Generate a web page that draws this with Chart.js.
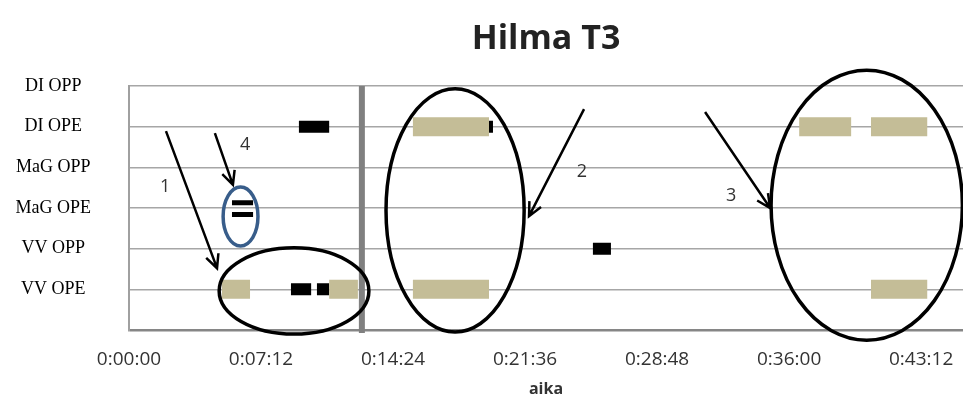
<!DOCTYPE html>
<html>
<head>
<meta charset="utf-8">
<script src="https://cdn.jsdelivr.net/npm/chart.js@4.4.0/dist/chart.umd.min.js"></script>
<style>
  body { margin: 0; background: #fff; }
</style>
</head>
<body>
<canvas id="chart" width="963" height="402"></canvas>
<script>
// rows of the y axis, bottom to top (0 = empty base row)
const rowLabels = ['', 'VV OPE', 'VV OPP', 'MaG OPE', 'MaG OPP', 'DI OPE', 'DI OPP'];
const tickLabels = ['0:00:00', '0:07:12', '0:14:24', '0:21:36', '0:28:48', '0:36:00', '0:43:12'];

// episodes, seconds from start
const tanRow   = [1, 1, 1, 5, 5, 5, 1];
const tanStart = [304, 655, 929, 929, 2193, 2428, 2428];
const tanEnd   = [396, 749, 1178, 1178, 2363, 2612, 2612];

const blackRow   = [5, 1, 1, 5, 2];
const blackStart = [556, 530, 615, 1178, 1518];
const blackEnd   = [655, 596, 655, 1191, 1577];

const thinRow   = [3.13, 2.84];
const thinStart = [337, 337];
const thinEnd   = [406, 406];

const dividerAt = 762;

// annotations (data units)
const ellipseCx = [540, 365, 1067, 2414];
const ellipseCy = [0.96, 2.79, 2.94, 3.07];
const ellipseRx = [245, 57, 226, 313];
const ellipseRy = [1.06, 0.725, 2.99, 3.32];
const ellipseColor = ['#000000', '#385D8A', '#000000', '#000000'];

const arrowFromX = [121, 281, 1489, 1885];
const arrowFromY = [4.89, 4.84, 5.43, 5.36];
const arrowToX = [288, 340, 1309, 2098];
const arrowToY = [1.52, 3.57, 2.80, 3.0];

const noteText = ['1', '4', '2', '3'];
const noteX = [118, 380, 1482, 1970];
const noteY = [3.52, 4.55, 3.88, 3.29];

const chartTitle = 'Hilma T3';

const toSeconds = (t) => t.split(':').reduce((acc, p) => acc * 60 + Number(p), 0);

function segments(rows, starts, ends) {
  const pts = [];
  rows.forEach((r, i) => {
    pts.push({ x: starts[i], y: r }, { x: ends[i], y: r }, { x: ends[i], y: null });
  });
  return pts;
}

const notes = {
  id: 'notes',
  afterDatasetsDraw(chart) {
    const { ctx, chartArea } = chart;
    const xs = chart.scales.x, ys = chart.scales.y;
    ctx.save();
    // divider
    const dx = xs.getPixelForValue(dividerAt);
    ctx.strokeStyle = '#808080';
    ctx.lineWidth = 6;
    ctx.beginPath();
    ctx.moveTo(dx, chartArea.top);
    ctx.lineTo(dx, chartArea.bottom + 3);
    ctx.stroke();
    // ellipses
    ctx.lineWidth = 3.5;
    ellipseCx.forEach((cx, i) => {
      const px = xs.getPixelForValue(cx), py = ys.getPixelForValue(ellipseCy[i]);
      const rx = Math.abs(xs.getPixelForValue(cx + ellipseRx[i]) - px);
      const ry = Math.abs(ys.getPixelForValue(ellipseCy[i] + ellipseRy[i]) - py);
      ctx.strokeStyle = ellipseColor[i];
      ctx.beginPath();
      ctx.ellipse(px, py, rx, ry, 0, 0, Math.PI * 2);
      ctx.stroke();
    });
    // arrows
    ctx.strokeStyle = '#000';
    ctx.lineWidth = 2.5;
    arrowFromX.forEach((fx, i) => {
      const x1 = xs.getPixelForValue(fx), y1 = ys.getPixelForValue(arrowFromY[i]);
      const x2 = xs.getPixelForValue(arrowToX[i]), y2 = ys.getPixelForValue(arrowToY[i]);
      const a = Math.atan2(y2 - y1, x2 - x1);
      ctx.beginPath();
      ctx.moveTo(x1, y1);
      ctx.lineTo(x2, y2);
      ctx.moveTo(x2 - 15 * Math.cos(a - 0.45), y2 - 15 * Math.sin(a - 0.45));
      ctx.lineTo(x2, y2);
      ctx.lineTo(x2 - 15 * Math.cos(a + 0.45), y2 - 15 * Math.sin(a + 0.45));
      ctx.stroke();
    });
    // numbers
    ctx.fillStyle = '#333';
    ctx.font = '18px "Open Sans"';
    ctx.textAlign = 'center';
    ctx.textBaseline = 'middle';
    noteText.forEach((t, i) => {
      ctx.fillText(t, xs.getPixelForValue(noteX[i]), ys.getPixelForValue(noteY[i]));
    });
    // title, centred over the plot area
    ctx.fillStyle = '#222';
    ctx.font = 'bold 34px "Open Sans"';
    ctx.fillText(chartTitle, (chartArea.left + chartArea.right) / 2, 39);
    ctx.restore();
  }
};

new Chart(document.getElementById('chart'), {
  type: 'line',
  data: {
    datasets: [
      { data: segments(tanRow, tanStart, tanEnd), borderColor: '#C4BD97', borderWidth: 19 },
      { data: segments(blackRow, blackStart, blackEnd), borderColor: '#000000', borderWidth: 12 },
      { data: segments(thinRow, thinStart, thinEnd), borderColor: '#000000', borderWidth: 5 }
    ]
  },
  options: {
    responsive: false,
    animation: false,
    elements: {
      line: { borderCapStyle: 'butt', tension: 0, fill: false },
      point: { radius: 0, hoverRadius: 0 }
    },
    layout: { padding: { left: 0, right: 0, top: 86, bottom: 0 } },
    plugins: {
      legend: { display: false },
      tooltip: { enabled: false },
      title: { display: false }
    },
    scales: {
      x: {
        type: 'linear',
        min: 0,
        max: 2729,
        afterBuildTicks: (s) => { s.ticks = tickLabels.map(t => ({ value: toSeconds(t) })); },
        afterFit: (s) => { s.height = 72; s.paddingLeft = 0; s.paddingRight = 0; },
        grid: { display: false, drawTicks: false },
        border: { display: false },
        ticks: {
          padding: 18,
          color: '#333',
          font: { family: 'Open Sans', size: 19 },
          maxRotation: 0,
          autoSkip: false,
          callback: (v, i) => tickLabels[i]
        },
        title: {
          display: true,
          text: 'aika',
          color: '#333',
          font: { family: 'Open Sans', size: 16, weight: 'bold' },
          padding: { top: 0, bottom: 3 }
        }
      },
      y: {
        type: 'linear',
        min: 0,
        max: 6,
        afterFit: (s) => { s.width = 129; },
        grid: {
          drawTicks: false,
          color: (c) => c.tick && c.tick.value === 0 ? '#868686' : '#a6a6a6',
          lineWidth: (c) => c.tick && c.tick.value === 0 ? 2.5 : 1.5
        },
        border: { display: true, color: '#a0a0a0', width: 2 },
        ticks: {
          stepSize: 1,
          padding: 38,
          crossAlign: 'center',
          color: '#000',
          font: { family: 'Liberation Serif', size: 18 },
          callback: (v) => rowLabels[v]
        }
      }
    }
  },
  plugins: [notes]
});
</script>
</body>
</html>
